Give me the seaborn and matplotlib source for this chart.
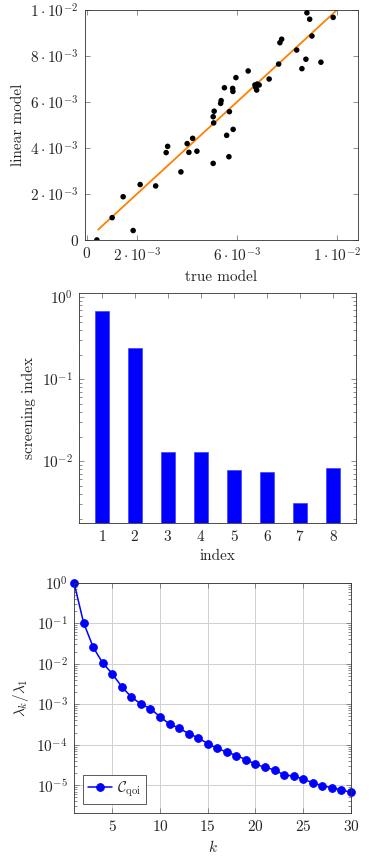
import matplotlib
matplotlib.use('Agg')
import numpy as np
import pandas as pd
import matplotlib.pyplot as plt
import seaborn as sns
from matplotlib.ticker import LogLocator, NullFormatter

# data
true_model = [0.00880, 0.00891, 0.00985, 0.00900, 0.00779, 0.00772, 0.00839, 0.00876, 0.00936,
              0.00860, 0.00767, 0.00645, 0.00596, 0.00729, 0.00672, 0.00681, 0.00689, 0.00675,
              0.00679, 0.00550, 0.00583, 0.00584, 0.00537, 0.00535, 0.00509, 0.00505, 0.00570,
              0.00507, 0.00585, 0.00559, 0.00568, 0.00505, 0.00440, 0.00423, 0.00401, 0.00408,
              0.00376, 0.00323, 0.00317, 0.00275, 0.00213, 0.00145, 0.00101, 0.00185, 0.00040]
linear_model = [0.00988, 0.00960, 0.00968, 0.00887, 0.00873, 0.00858, 0.00826, 0.00786, 0.00773,
                0.00745, 0.00765, 0.00735, 0.00706, 0.00700, 0.00674, 0.00678, 0.00674, 0.00664,
                0.00652, 0.00662, 0.00659, 0.00646, 0.00606, 0.00594, 0.00560, 0.00536, 0.00558,
                0.00509, 0.00481, 0.00455, 0.00362, 0.00333, 0.00386, 0.00442, 0.00419, 0.00381,
                0.00296, 0.00407, 0.00380, 0.00235, 0.00241, 0.00188, 0.00097, 0.00041, 0.00000]
fit_x = [0.00045, 0.0100]
fit_y = [0.00045, 0.0100]

index = [1, 2, 3, 4, 5, 6, 7, 8]
screening = [0.68, 0.239, 0.0129, 0.0129, 0.0078, 0.00746, 0.00313, 0.0082]

k = list(range(1, 31))
eig_ratio = [1.0, 0.103, 0.0258, 0.0104, 0.00568, 0.0027, 0.00151, 0.00101, 0.00078, 0.00049,
             3.24e-4, 2.58e-4, 1.87e-4, 1.49e-4, 1.06e-4, 8.1e-5, 6.6e-5, 5.4e-5, 4.3e-5, 3.3e-5,
             2.75e-5, 2.4e-5, 1.78e-5, 1.69e-5, 1.42e-5, 1.15e-5, 9.7e-6, 8.7e-6, 7.6e-6, 6.7e-6]

sns.set_style('ticks')
plt.rcParams['font.family'] = 'serif'
plt.rcParams['font.serif'] = ['cmr10', 'DejaVu Serif']
plt.rcParams['mathtext.fontset'] = 'cm'
plt.rcParams['axes.formatter.use_mathtext'] = True
plt.rcParams['font.size'] = 11
plt.rcParams['axes.labelsize'] = 11
plt.rcParams['axes.edgecolor'] = '#303030'
plt.rcParams['axes.linewidth'] = 0.6

fig = plt.figure(figsize=(3.74, 8.57), dpi=100)
ax1 = fig.add_axes([0.227, 0.7200, 0.730, 0.2683])
ax2 = fig.add_axes([0.2112, 0.3901, 0.7407, 0.2684])
ax3 = fig.add_axes([0.1979, 0.0517, 0.7406, 0.2684])


def style(ax):
    ax.tick_params(which='both', direction='in', top=True, right=True,
                   color='#606060', width=0.5, labelsize=11, pad=4.5)
    ax.tick_params(which='major', length=3.5)
    ax.tick_params(which='minor', length=2)


# 1) scatter: true vs linear model
df1 = pd.DataFrame({'true': true_model, 'linear': linear_model})
sns.lineplot(x=fit_x, y=fit_y, color='#ff8000', lw=1.3, ax=ax1)
sns.scatterplot(data=df1, x='true', y='linear', color='black', s=16, edgecolor='none', ax=ax1, zorder=3)
ax1.set_xlim(-0.00008, 0.01084)
ax1.set_ylim(0, 0.01)
ax1.set_xticks([0, 0.002, 0.006, 0.01])
ax1.set_xticklabels([r'$0$', r'$2\cdot10^{-3}$', r'$6\cdot10^{-3}$', r'$1\cdot10^{-2}$'])
ax1.set_yticks([0, 0.002, 0.004, 0.006, 0.008, 0.01])
ax1.set_yticklabels([r'$0$', r'$2\cdot10^{-3}$', r'$4\cdot10^{-3}$', r'$6\cdot10^{-3}$',
                     r'$8\cdot10^{-3}$', r'$1\cdot10^{-2}$'])
ax1.set_xlabel('true model')
ax1.set_ylabel('linear model')
style(ax1)

# 2) screening index bars
df2 = pd.DataFrame({'index': index, 'screening': screening})
ax2.set_yscale('log')
sns.barplot(data=df2, x='index', y='screening', native_scale=True, width=0.44,
            color='#0000ff', saturation=1, edgecolor='#3030ff', linewidth=0.4, ax=ax2)
ax2.set_xlim(0.31, 8.69)
ax2.set_ylim(0.00178, 1.14)
ax2.set_xticks(index)
ax2.set_xticklabels([f'${i}$' for i in index])
ax2.set_yticks([1, 0.1, 0.01])
ax2.set_yticklabels([r'$10^{0}$', r'$10^{-1}$', r'$10^{-2}$'])
ax2.yaxis.set_minor_locator(LogLocator(base=10, subs=np.arange(2, 10) * 1.0))
ax2.yaxis.set_minor_formatter(NullFormatter())
ax2.set_xlabel('index')
ax2.set_ylabel('screening index')
style(ax2)

# 3) eigenvalue decay
ax3.set_yscale('log')
sns.lineplot(x=k, y=eig_ratio, marker='o', color='#0000ff', markersize=5.5,
             markeredgecolor='#0000ff', lw=1.1, label=r'$\mathcal{C}_{\mathrm{qoi}}$', ax=ax3)
ax3.set_xlim(1, 30)
ax3.set_ylim(2.1e-6, 1.0)
ax3.set_xticks([5, 10, 15, 20, 25, 30])
ax3.set_xticklabels([f'${v}$' for v in [5, 10, 15, 20, 25, 30]])
ax3.set_yticks([1, 1e-1, 1e-2, 1e-3, 1e-4, 1e-5])
ax3.set_yticklabels([r'$10^{0}$', r'$10^{-1}$', r'$10^{-2}$', r'$10^{-3}$', r'$10^{-4}$', r'$10^{-5}$'])
ax3.yaxis.set_minor_locator(LogLocator(base=10, subs=np.arange(2, 10) * 1.0, numticks=20))
ax3.yaxis.set_minor_formatter(NullFormatter())
ax3.grid(True, which='major', color='#d0d0d0', lw=0.7)
ax3.set_axisbelow(True)
for ln in ax3.lines:
    ln.set_clip_on(False)
ax3.set_xlabel(r'$k$')
ax3.set_ylabel(r'$\lambda_k/\lambda_1$')
leg = ax3.legend(loc='lower left', fancybox=False, edgecolor='#404040', framealpha=1,
                 handlelength=1.6, handletextpad=0.3, borderpad=0.3, borderaxespad=0.6)
leg.get_frame().set_linewidth(0.6)
style(ax3)

fig.savefig('out.png', dpi=100)
